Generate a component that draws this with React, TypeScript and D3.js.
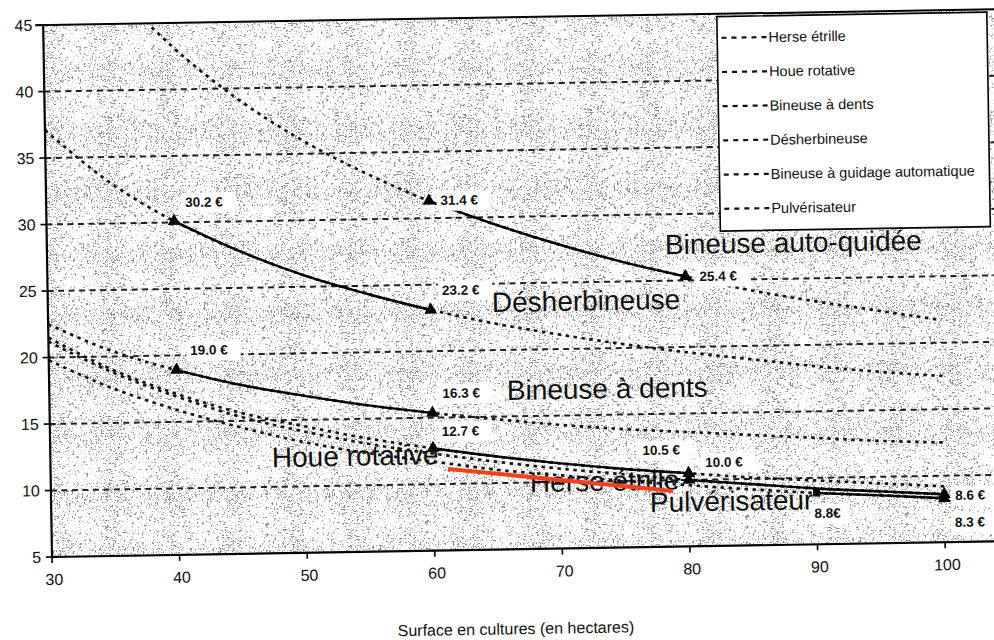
import React from 'react';
import * as d3 from 'd3';

// ---------- data ----------
const X_TICKS = [30, 40, 50, 60, 70, 80, 90, 100];
const Y_TICKS = [5, 10, 15, 20, 25, 30, 35, 40, 45];
const GRID_VALUES = [10, 15, 20, 25, 30, 35, 40];

const SURFACES = [30, 35, 40, 45, 50, 55, 60, 65, 70, 75, 80, 85, 90, 95, 100];
const AUTO_SURFACES = [38.5, 40, 45, 50, 55, 60, 65, 70, 75, 80, 85, 90, 95, 100];

const AUTO_COST = [44.7, 43.3, 39.3, 36.1, 33.5, 31.3, 29.5, 27.9, 26.5, 25.3, 24.2, 23.3, 22.5, 21.7];
const DESHERB_COST = [37.1, 33.1, 30.1, 27.8, 25.9, 24.4, 23.1, 22.0, 21.1, 20.3, 19.6, 19.0, 18.4, 17.9, 17.5];
const DENTS_COST = [22.5, 20.4, 18.9, 17.7, 16.8, 16.0, 15.35, 14.8, 14.3, 13.9, 13.6, 13.3, 13.0, 12.7, 12.5];
const HOUE_COST = [21.5, 19.0, 17.1, 15.6, 14.5, 13.5, 12.7, 12.0, 11.4, 10.9, 10.5, 10.1, 9.8, 9.5, 9.2];
const HERSE_COST = [21.2, 18.8, 16.9, 15.3, 14.1, 13.1, 12.3, 11.6, 11.0, 10.5, 10.0, 9.6, 9.2, 8.9, 8.6];
const PULV_COST = [19.8, 17.6, 15.9, 14.5, 13.3, 12.4, 11.7, 11.0, 10.5, 10.0, 9.6, 9.2, 8.86, 8.6, 8.3];

// solid (computed) range per curve: [from, to] in hectares
const AUTO_SOLID = [60, 80];
const DESHERB_SOLID = [40, 60];
const DENTS_SOLID = [40, 60];
const HOUE_SOLID = [60, 80];
const HERSE_SOLID = [80, 100];
const PULV_SOLID = [90, 100];

const LEGEND_NAMES = [
  'Herse étrille',
  'Houe rotative',
  'Bineuse à dents',
  'Désherbineuse',
  'Bineuse à guidage automatique',
  'Pulvérisateur',
];

// marker points
const MARKER_X = [60, 80, 40, 60, 40, 60, 60, 80, 80, 100, 100];
const MARKER_Y = [31.3, 25.3, 30.1, 23.1, 18.9, 15.35, 12.7, 10.5, 10.0, 8.6, 8.3];
const SQUARE_X = [90];
const SQUARE_Y = [8.86];

// value annotations (anchored in data space: left edge / baseline)
const VALUE_TEXT = ['30.2 €', '31.4 €', '23.2 €', '25.4 €', '19.0 €', '16.3 €', '12.7 €', '10.5 €', '10.0 €', '8.8€', '8.6 €', '8.3 €'];
const VALUE_AT_X = [40.9, 60.9, 60.9, 81.1, 41.1, 60.8, 60.7, 76.4, 81.3, 89.8, 100.85, 100.8];
const VALUE_AT_Y = [31.15, 30.98, 24.21, 24.94, 20.02, 16.47, 13.61, 11.93, 10.95, 6.98, 8.16, 6.13];

// curve names written on the chart
const CURVE_TEXT = ['Bineuse auto-quidée', 'Désherbineuse', 'Bineuse à dents', 'Houe rotative', 'Herse étrille', 'Pulvérisateur'];
const CURVE_AT_X = [78.43, 64.8, 65.86, 47.36, 67.55, 76.92];
const CURVE_AT_Y = [27.0, 22.87, 16.24, 11.49, 9.29, 7.64];

// red hand-drawn mark
const RED_X = [61.15, 78.75];
const RED_Y = [11.12, 9.19];

const X_TITLE = 'Surface en cultures (en hectares)';

// ---------- layout ----------
const W = 994;
const H = 640;
const FONT = "'Liberation Sans', Arial, Helvetica, sans-serif";

export default function App() {
  const x = d3.scaleLinear().domain([30, 100]).range([52, 945.2]);
  const y = d3.scaleLinear().domain([5, 45]).range([557, 25]);
  const xRight = 1012;

  const line = d3
    .line<[number, number]>()
    .x((d) => x(d[0]))
    .y((d) => y(d[1]))
    .curve(d3.curveMonotoneX);

  const series: { xs: number[]; ys: number[]; solid: number[] }[] = [
    { xs: AUTO_SURFACES, ys: AUTO_COST, solid: AUTO_SOLID },
    { xs: SURFACES, ys: DESHERB_COST, solid: DESHERB_SOLID },
    { xs: SURFACES, ys: DENTS_COST, solid: DENTS_SOLID },
    { xs: SURFACES, ys: HOUE_COST, solid: HOUE_SOLID },
    { xs: SURFACES, ys: HERSE_COST, solid: HERSE_SOLID },
    { xs: SURFACES, ys: PULV_COST, solid: PULV_SOLID },
  ];

  const tri = d3.symbol().type(d3.symbolTriangle).size(72)() as string;

  const legendX = 725.7;
  const legendY = 27.7;
  const legendW = 270;
  const legendH = 214.5;

  return (
    <svg
      width={W}
      height={H}
      viewBox={`0 0 ${W} ${H}`}
      style={{ position: 'absolute', left: 0, top: 0, background: '#fff' }}
      fontFamily={FONT}
    >
      <defs>
        <filter id="grain" x="0" y="0" width="100%" height="100%" colorInterpolationFilters="sRGB">
          <feTurbulence type="fractalNoise" baseFrequency="1.6 1.3" numOctaves={1} seed={11} result="n" />
          <feColorMatrix
            in="n"
            type="matrix"
            values="0 0 0 0 0.42  0 0 0 0 0.42  0 0 0 0 0.42  12 0 0 0 -6.5"
          />
        </filter>
      </defs>
      <g transform={`rotate(-0.95, ${x(30)}, ${y(5)})`}>
        {/* plot background */}
        <rect x={x(30)} y={y(45)} width={xRight - x(30)} height={y(5) - y(45)} fill="#fff" />
        <rect
          x={x(30)}
          y={y(45)}
          width={xRight - x(30)}
          height={y(5) - y(45)}
          fill="#fff"
          filter="url(#grain)"
          opacity={0.8}
        />

        {/* grid */}
        {GRID_VALUES.map((v) => (
          <line
            key={'g' + v}
            x1={x(30)}
            x2={xRight}
            y1={y(v)}
            y2={y(v)}
            stroke="#222"
            strokeWidth={2}
            strokeDasharray="6 4.5"
          />
        ))}

        {/* dotted curves */}
        {series.map((s, i) => {
          const pts = s.xs.map((v, j) => [v, s.ys[j]] as [number, number]);
          return (
            <path
              key={'d' + i}
              d={line(pts) as string}
              fill="none"
              stroke="#151515"
              strokeWidth={2.7}
              strokeDasharray="3.5 4.5"
            />
          );
        })}

        {/* solid computed segments */}
        {series.map((s, i) => {
          const pts = s.xs
            .map((v, j) => [v, s.ys[j]] as [number, number])
            .filter((p) => p[0] >= s.solid[0] && p[0] <= s.solid[1]);
          return (
            <path key={'s' + i} d={line(pts) as string} fill="none" stroke="#000" strokeWidth={2.4} />
          );
        })}

        {/* value labels with white boxes */}
        {VALUE_TEXT.map((t, i) => {
          const lx = x(VALUE_AT_X[i]);
          const ly = y(VALUE_AT_Y[i]);
          const w = t.length * 7.4 + 4;
          return (
            <g key={'v' + i}>
              <rect x={lx - 4} y={ly - 14} width={w + 6} height={20} fill="#fff" />
              <text x={lx} y={ly} fontSize={13.5} fontWeight="bold" fill="#111">
                {t}
              </text>
            </g>
          );
        })}

        {/* markers */}
        {MARKER_X.map((v, i) => (
          <path key={'m' + i} d={tri} transform={`translate(${x(v)},${y(MARKER_Y[i])})`} fill="#000" />
        ))}
        {SQUARE_X.map((v, i) => (
          <rect key={'q' + i} x={x(v) - 3.5} y={y(SQUARE_Y[i]) - 3.5} width={7} height={7} fill="#000" />
        ))}

        {/* curve names */}
        {CURVE_TEXT.map((t, i) => (
          <text key={'c' + i} x={x(CURVE_AT_X[i])} y={y(CURVE_AT_Y[i])} fontSize={28} fill="#111">
            {t}
          </text>
        ))}

        {/* red mark */}
        <line
          x1={x(RED_X[0])}
          y1={y(RED_Y[0])}
          x2={x(RED_X[1])}
          y2={y(RED_Y[1])}
          stroke="#f2401e"
          strokeWidth={4}
        />

        {/* legend */}
        <rect x={legendX} y={legendY} width={legendW} height={legendH} fill="#fff" stroke="#000" strokeWidth={1.6} />
        {LEGEND_NAMES.map((n, i) => {
          const ry = 49 + i * 34.2;
          return (
            <g key={'l' + i}>
              <line x1={730} x2={776} y1={ry} y2={ry} stroke="#111" strokeWidth={2.2} strokeDasharray="5 5" />
              <text x={777} y={ry} dy="0.35em" fontSize={14.5} fill="#111">
                {n}
              </text>
            </g>
          );
        })}

        {/* axes */}
        <line x1={44} x2={xRight} y1={y(45)} y2={y(45)} stroke="#000" strokeWidth={2} />
        <line x1={x(30)} x2={x(30)} y1={y(45)} y2={y(5)} stroke="#000" strokeWidth={2.2} />
        <line x1={x(30)} x2={xRight} y1={y(5)} y2={y(5)} stroke="#000" strokeWidth={2.2} />
        {Y_TICKS.map((v) => (
          <g key={'yt' + v}>
            <line x1={x(30) - 6} x2={x(30)} y1={y(v)} y2={y(v)} stroke="#000" strokeWidth={1.6} />
            <text x={41} y={y(v)} dy="0.35em" textAnchor="end" fontSize={16} fill="#111">
              {v}
            </text>
          </g>
        ))}
        {X_TICKS.map((v) => (
          <g key={'xt' + v}>
            <line x1={x(v)} x2={x(v)} y1={y(5)} y2={y(5) + 6} stroke="#000" strokeWidth={1.6} />
            <text x={x(v) + 2} y={585} textAnchor="middle" fontSize={16} fill="#111">
              {v}
            </text>
          </g>
        ))}
        <text x={514.7} y={642} textAnchor="middle" fontSize={16} fill="#111">
          {X_TITLE}
        </text>
      </g>
    </svg>
  );
}
